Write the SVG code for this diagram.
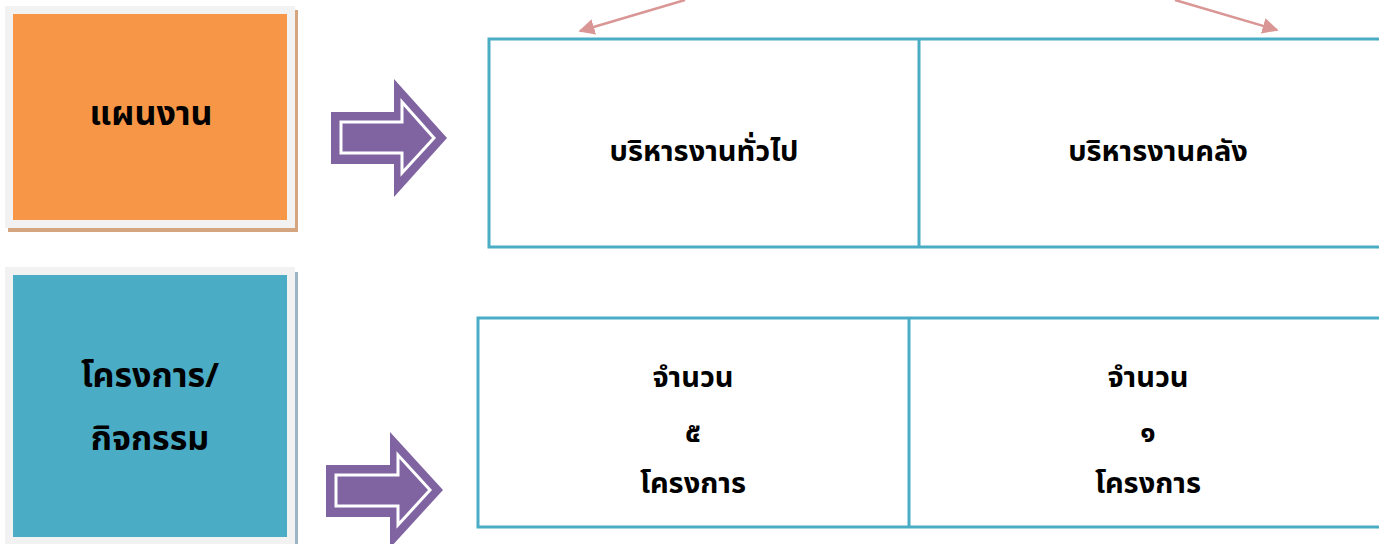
<svg xmlns="http://www.w3.org/2000/svg" width="1379" height="544" viewBox="0 0 1379 544">
<style>
.lbl{font-family:"Noto Sans Thai","Noto Sans","DejaVu Sans",sans-serif;font-weight:bold;fill:#000;text-anchor:middle}
.big{font-size:34px}
.mid{font-size:29px}
.cell{fill:none;stroke:#4BACC6;stroke-width:3}
.parr{fill:#8064A2}
.pin{fill:none;stroke:#fff;stroke-width:3}
.conn{stroke:#D99694;stroke-width:2.5;fill:none}
</style>
<defs>
<marker id="ah2" viewBox="0 0 10 10" refX="9" refY="5" markerWidth="16" markerHeight="16" markerUnits="userSpaceOnUse" orient="auto">
<path d="M0,0 L10,5 L0,10 Z" fill="#D99694"/>
</marker>
</defs>
<rect width="1379" height="544" fill="#fff"/>
<g id="connectors">
<line class="conn" x1="685" y1="0" x2="580" y2="31" marker-end="url(#ah2)"/>
<line class="conn" x1="1175" y1="0" x2="1277" y2="30" marker-end="url(#ah2)"/>
</g>
<g id="plan">
<rect x="8" y="10" width="290" height="222" fill="#D4A57F"/>
<rect x="5" y="6" width="290" height="222" fill="#F2F2F2"/>
<rect x="13" y="14" width="274" height="206" fill="#F79646"/>
<text class="lbl big" x="151" y="125">แผนงาน</text>
</g>
<g id="project">
<rect x="8" y="272" width="290" height="280" fill="#9DB6C4"/>
<rect x="5" y="267" width="290" height="280" fill="#F2F2F2"/>
<rect x="13" y="275" width="274" height="262" fill="#4BACC6"/>
<text class="lbl big" x="150" y="387">โครงการ/</text>
<text class="lbl big" x="150" y="450">กิจกรรม</text>
</g>
<g id="arrow1">
<path class="parr" d="M331,112 L394,112 L394,79 L447,138 L394,197 L394,164 L331,164 Z"/>
<path class="pin" d="M341,122 L402,122 L402,102 L434,138 L402,173 L402,153 L341,153 Z"/>
</g>
<g id="arrow2">
<path class="parr" d="M326,465 L390,465 L390,432 L443,490 L390,548 L390,517 L326,517 Z"/>
<path class="pin" d="M336,475 L398,475 L398,455 L430,490 L398,525 L398,506 L336,506 Z"/>
</g>
<g id="units">
<path class="cell" d="M1379,39 L489,39 L489,247 L1379,247 M919,39 L919,247"/>
<text class="lbl mid" x="704" y="161">บริหารงานทั่วไป</text>
<text class="lbl mid" x="1158" y="161">บริหารงานคลัง</text>
</g>
<g id="counts">
<path class="cell" d="M1379,318 L478,318 L478,527 L1379,527 M909,318 L909,527"/>
<text class="lbl mid" x="693" y="387">จำนวน</text>
<text class="lbl mid" x="693" y="442">๕</text>
<text class="lbl mid" x="693" y="493">โครงการ</text>
<text class="lbl mid" x="1148" y="387">จำนวน</text>
<text class="lbl mid" x="1148" y="442">๑</text>
<text class="lbl mid" x="1148" y="493">โครงการ</text>
</g>
</svg>
